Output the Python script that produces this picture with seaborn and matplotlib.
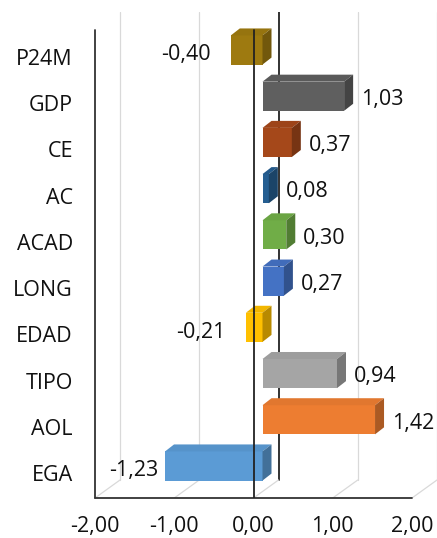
import matplotlib
matplotlib.use("Agg")
import matplotlib.pyplot as plt
import seaborn as sns
import pandas as pd
import numpy as np
from matplotlib.patches import Polygon
from matplotlib.colors import to_rgb

categories = ["P24M", "GDP", "CE", "AC", "ACAD", "LONG", "EDAD", "TIPO", "AOL", "EGA"]
values = [-0.40, 1.03, 0.37, 0.08, 0.30, 0.27, -0.21, 0.94, 1.42, -1.23]
colors = ["#9e7a10", "#5f5f5f", "#a5481a", "#255e91", "#70ad47",
          "#4472c4", "#ffc000", "#a5a5a5", "#ed7d31", "#5b9bd5"]
xticks = [-2, -1, 0, 1, 2]
xtick_labels = ["-2,00", "-1,00", "0,00", "1,00", "2,00"]
value_labels = ["-0,40", "1,03", "0,37", "0,08", "0,30", "0,27", "-0,21", "0,94", "1,42", "-1,23"]

sns.set_theme(style="white")
plt.rcParams['font.family'] = ['Open Sans', 'DejaVu Sans']

W, H = 437, 538
fig = plt.figure(figsize=(W / 100, H / 100), dpi=100)

# pixel geometry
x_left_px, x_right_px = 95, 437
y_top_px, y_bot_px = 12, 498
pxx = 79.25          # px per x unit
pxy = 46.22          # px per category
ax = fig.add_axes([x_left_px / W, (H - y_bot_px) / H,
                   (x_right_px - x_left_px) / W, (y_bot_px - y_top_px) / H])

xlim = (-2, -2 + (x_right_px - x_left_px) / pxx)
ylim_top = 0 - (57 - y_top_px) / pxy
ylim_bot = 9 + (y_bot_px - 473) / pxy
front_top = 0 - (57 - 30) / pxy

df = pd.DataFrame({"cat": categories, "val": values})
bar_h = 0.63
sns.barplot(data=df, y="cat", x="val", hue="cat", palette=colors, legend=False,
            orient="h", width=bar_h, ax=ax, saturation=1, zorder=3)
ax.set_xlim(*xlim)
ax.set_ylim(ylim_bot, ylim_top)

# depth offsets in data units
bdx, bdy = 25 / pxx, -18 / pxy      # back wall
odx, ody = 9 / pxx, -7 / pxy        # bar front offset
ddx, ddy = 9 / pxx, -7 / pxy        # bar depth

grid_c = "#d9d9d9"
for t in xticks:
    lw, c = (1.3, "#222222") if t == 0 else (0.9, grid_c)
    ax.plot([t + bdx, t + bdx], [ylim_top, ylim_bot + bdy], color=c, lw=lw, zorder=1)
    ax.plot([t, t + bdx], [ylim_bot, ylim_bot + bdy], color=grid_c, lw=0.9, zorder=1)

def shade(c, f):
    r, g, b = to_rgb(c)
    return (min(r * f, 1), min(g * f, 1), min(b * f, 1))

for p, col in zip(ax.patches, colors):
    x0 = p.get_x(); w = p.get_width(); y0 = p.get_y(); h = p.get_height()
    p.set_x(x0 + odx)
    p.set_y(y0 + ody)
    p.set_linewidth(0)
    xa, xb = min(x0, x0 + w) + odx, max(x0, x0 + w) + odx
    ytop = y0 + ody
    ybot = y0 + h + ody
    top = Polygon([[xa, ytop], [xb, ytop], [xb + ddx, ytop + ddy], [xa + ddx, ytop + ddy]],
                  closed=True, facecolor=shade(col, 0.95), edgecolor="none", zorder=3)
    side = Polygon([[xb, ytop], [xb + ddx, ytop + ddy], [xb + ddx, ybot + ddy], [xb, ybot]],
                   closed=True, facecolor=shade(col, 0.72), edgecolor="none", zorder=3)
    ax.add_patch(top)
    ax.add_patch(side)

ax.plot([-2, -2], [front_top, ylim_bot], color="#333333", lw=1.3, zorder=4, clip_on=False)
ax.plot([-2, 2], [ylim_bot, ylim_bot], color="#333333", lw=1.3, zorder=4, clip_on=False)
ax.plot([0, 0], [front_top, ylim_bot], color="#222222", lw=1.3, zorder=5)

fs = 15.5
for i, (v, lab) in enumerate(zip(values, value_labels)):
    if v >= 0:
        ax.text(v + odx + ddx + 8 / pxx, i - 0.08, lab, ha="left", va="center",
                fontsize=fs, color="#111111", zorder=6)
    else:
        gap = 7 if abs(v) > 1 else 20
        ax.text(v + odx - gap / pxx, i - 0.05, lab, ha="right", va="center",
                fontsize=fs, color="#111111", zorder=6)

for s in ax.spines.values():
    s.set_visible(False)
ax.set_xticks(xticks)
ax.set_xticklabels(xtick_labels)
ax.tick_params(axis="x", length=0, pad=13, labelsize=fs, colors="#111111")
ax.tick_params(axis="y", length=0, pad=16, labelsize=fs, colors="#111111")
ax.set_xlabel("")
ax.set_ylabel("")
ax.grid(False)

fig.savefig("out.png", dpi=100)
